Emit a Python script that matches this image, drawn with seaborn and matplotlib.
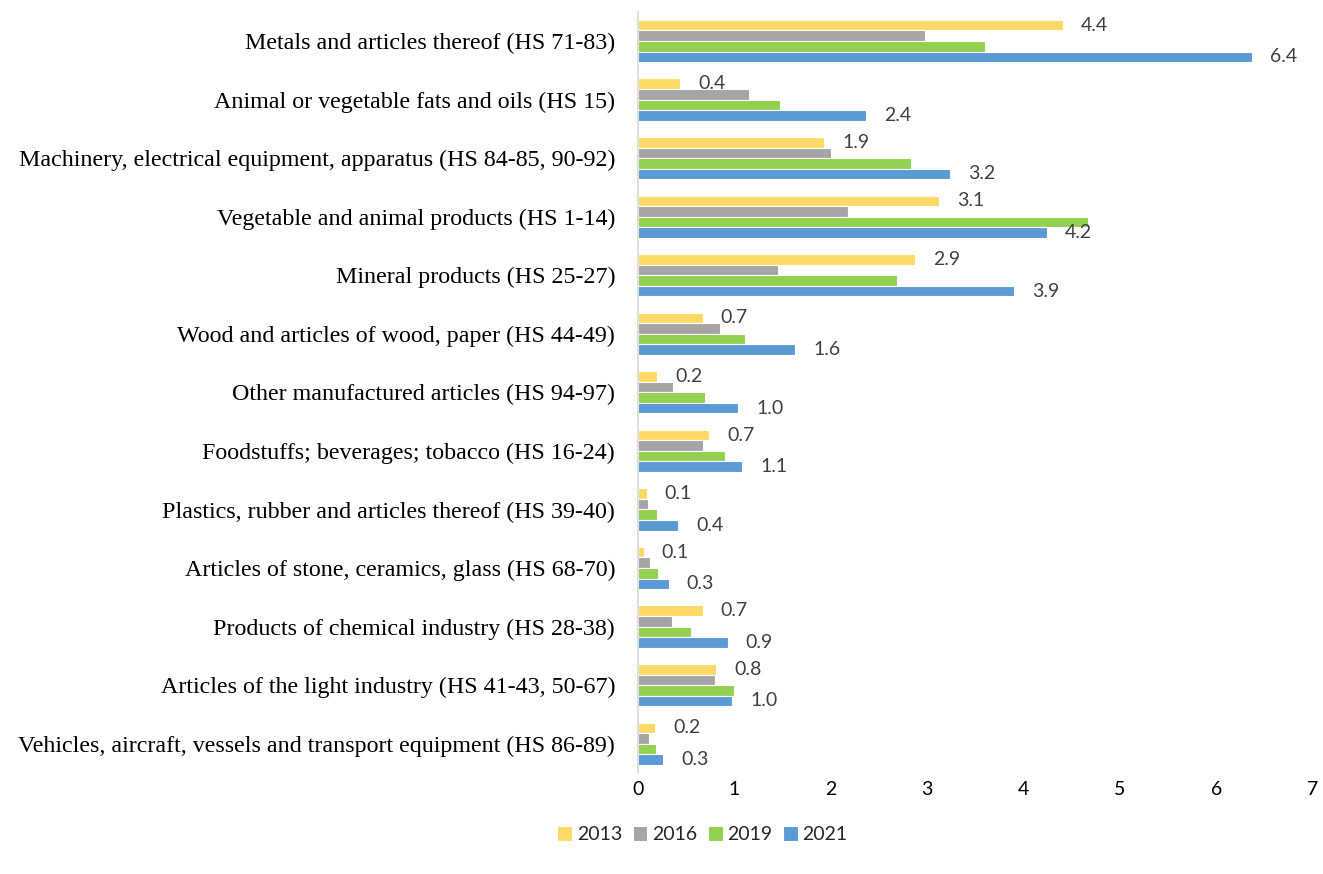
import matplotlib
matplotlib.use("Agg")
import matplotlib.pyplot as plt
import seaborn as sns
import pandas as pd

categories = [
    "Metals and articles thereof (HS 71-83)",
    "Animal or vegetable fats and oils (HS 15)",
    "Machinery, electrical equipment, apparatus (HS 84-85, 90-92)",
    "Vegetable and animal products (HS 1-14)",
    "Mineral products (HS 25-27)",
    "Wood and articles of wood, paper (HS 44-49)",
    "Other manufactured articles (HS 94-97)",
    "Foodstuffs; beverages; tobacco (HS 16-24)",
    "Plastics, rubber and articles thereof (HS 39-40)",
    "Articles of stone, ceramics, glass (HS 68-70)",
    "Products of chemical industry (HS 28-38)",
    "Articles of the light industry (HS 41-43, 50-67)",
    "Vehicles, aircraft, vessels and transport equipment (HS 86-89)",
]
years = ["2013", "2016", "2019", "2021"]
v2013 = [4.41, 0.44, 1.93, 3.12, 2.87, 0.67, 0.20, 0.74, 0.09, 0.06, 0.67, 0.81, 0.18]
v2016 = [2.98, 1.15, 2.00, 2.18, 1.45, 0.85, 0.36, 0.67, 0.10, 0.12, 0.35, 0.80, 0.11]
v2019 = [3.60, 1.47, 2.83, 4.67, 2.69, 1.11, 0.70, 0.90, 0.20, 0.21, 0.55, 1.00, 0.19]
v2021 = [6.37, 2.37, 3.24, 4.24, 3.90, 1.63, 1.04, 1.08, 0.42, 0.32, 0.93, 0.98, 0.26]
colors = ["#FFD966", "#A5A5A5", "#92D050", "#5B9BD5"]

rows = []
for year, vals in zip(years, [v2013, v2016, v2019, v2021]):
    for cat, v in zip(categories, vals):
        rows.append({"category": cat, "year": year, "value": v})
df = pd.DataFrame(rows)

sns.set_theme(style="white")
plt.rcParams["font.family"] = ["Lato", "DejaVu Sans"]

fig = plt.figure(figsize=(13.23, 8.74), dpi=100)
ax = fig.add_axes([0.4822, 0.1156, 0.5102, 0.8710])

sns.barplot(
    data=df, y="category", x="value", hue="year", order=categories,
    hue_order=years, palette=colors, saturation=1, orient="h", width=0.72,
    edgecolor="white", linewidth=0.8, ax=ax, legend=True,
)

# value labels on the 2013 and 2021 bars
for idx in (0, 3):
    ax.bar_label(ax.containers[idx], fmt="%.1f", padding=13,
                 fontsize=14, color="#404040")

ax.set_xlim(0, 7)
ax.set_xticks(range(0, 8))
ax.set_ylim(len(categories) - 0.5, -0.5)
ax.set_xlabel("")
ax.set_ylabel("")
ax.tick_params(axis="x", length=0, pad=6, labelsize=14, labelcolor="#000000")
ax.tick_params(axis="y", length=0, pad=16.5)
for lab in ax.get_yticklabels():
    lab.set_fontfamily(["Liberation Serif", "DejaVu Serif"])
    lab.set_fontsize(17.3)
    lab.set_color("#000000")

for side in ("top", "right", "bottom"):
    ax.spines[side].set_visible(False)
ax.spines["left"].set_color("#D9D9D9")
ax.spines["left"].set_linewidth(1.2)

handles, labels = ax.get_legend_handles_labels()
ax.get_legend().remove()
fig.legend(handles, labels, loc="center", bbox_to_anchor=(0.531, 0.045),
           ncol=4, frameon=False, fontsize=14, handlelength=0.75,
           handleheight=0.75, handletextpad=0.25, columnspacing=0.55)

fig.savefig("out.png", dpi=100)
